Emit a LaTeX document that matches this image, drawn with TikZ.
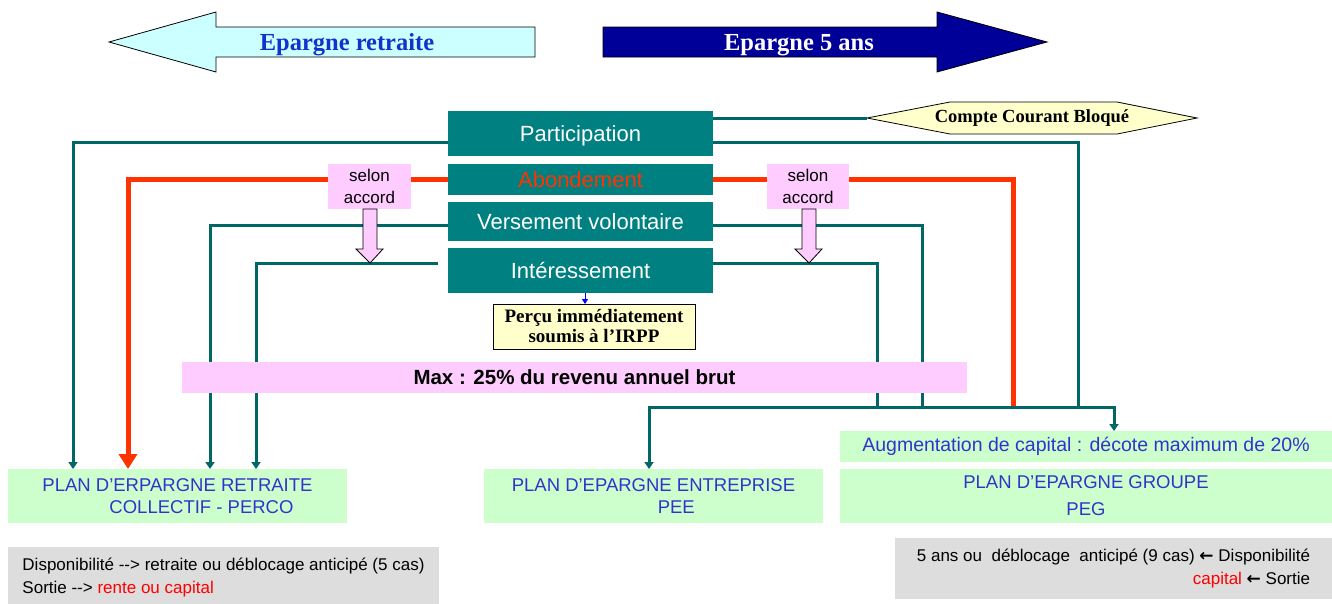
\documentclass[tikz,border=0pt]{standalone}
\usepackage{fontspec}
\setmainfont{Liberation Sans}
\newfontfamily\serifx{Liberation Serif}
\newfontfamily\djv{DejaVu Sans}
\usetikzlibrary{arrows.meta,calc}
\definecolor{tealbox}{HTML}{008080}
\definecolor{tealline}{HTML}{006666}
\definecolor{redl}{HTML}{FF3300}
\definecolor{pinkb}{HTML}{FFCCFF}
\definecolor{greenb}{HTML}{CCFFCC}
\definecolor{grayb}{HTML}{DDDDDD}
\definecolor{plantxt}{HTML}{3333CC}
\definecolor{cyanb}{HTML}{CCFFFF}
\definecolor{navyb}{HTML}{000099}
\definecolor{yelb}{HTML}{FFFFCC}
\definecolor{bluetxt}{HTML}{1133CC}
\definecolor{redtxt}{HTML}{FF0000}
\newcommand\myfs[2]{\fontsize{#1}{#2}\selectfont}
\newcommand\dasharrow{{-}{-}>}
\begin{document}
\begin{tikzpicture}[x=1pt,y=-1pt,
  tl/.style={draw=tealline,line width=3pt},
  rl/.style={draw=redl,line width=5pt},
  tarr/.style={-{Triangle[length=7pt,width=9pt]}},
  rarr/.style={-{Triangle[length=15pt,width=18pt]}},
  fbox/.style={fill=tealbox,inner sep=0pt,outer sep=0pt,minimum width=265pt,text=white,font=\myfs{22}{26},text height=18pt,text depth=3pt},
  pbox/.style={fill=pinkb,inner sep=0pt,outer sep=0pt,align=center},
  gbox/.style={fill=greenb,inner sep=0pt,outer sep=0pt,text=plantxt,font=\myfs{18.5}{22}},
  greybox/.style={fill=grayb,inner sep=0pt,outer sep=0pt,font=\myfs{17}{23}},
  bigarrow/.style={draw=black,line width=0.8pt},
  pinkarrow/.style={draw=black,fill=pinkb,line width=0.8pt}]
\useasboundingbox (0,0) rectangle (1332,603);
% top arrows
\draw[bigarrow,fill=cyanb] (109,42) -- (216,12) -- (216,27) -- (535,27) -- (535,57) -- (216,57) -- (216,72) -- cycle;
\node[text=bluetxt,font=\serifx\bfseries\myfs{24.5}{28}] (ret) at (347,45) {Epargne retraite};
\draw[bigarrow,fill=navyb] (603,27) -- (937,27) -- (937,12) -- (1047,42) -- (937,72) -- (937,57) -- (603,57) -- cycle;
\node[text=white,font=\serifx\bfseries\myfs{24.5}{28}] (cinq) at (799,45) {Epargne 5 ans};
% hexagon
\draw[bigarrow,fill=yelb] (867,118) -- (950,102) -- (1117,102) -- (1197,118) -- (1117,134) -- (950,134) -- cycle;
\node[inner sep=0pt,outer sep=0pt,minimum width=330pt,minimum height=32pt,font=\serifx\bfseries\myfs{18.5}{20}] (ccb) at (1032,118) {Compte Courant Bloqué};
% main boxes
\node[fbox,minimum height=45pt] (part) at (580.5,133.5) {Participation};
\node[fbox,minimum height=31pt,text=redl] (abond) at (580.5,179.5) {Abondement};
\node[fbox,minimum height=39pt] (vers) at (580.5,221.5) {Versement volontaire};
\node[fbox,minimum height=45pt] (inter) at (580.5,270.5) {Intéressement};
% plan boxes
\node[gbox,minimum width=339pt,minimum height=54pt,align=left] (perco) at (177.5,496) {PLAN D’ERPARGNE RETRAITE\\\hspace*{67pt}COLLECTIF - PERCO};
\node[gbox,minimum width=339pt,minimum height=54pt,align=left] (pee) at (653.5,496) {PLAN D’EPARGNE ENTREPRISE\\\hspace*{146pt}PEE};
\node[gbox,minimum width=492pt,minimum height=31pt,font=\myfs{19.5}{22}] (aug) at (1086,446.5) {Augmentation de capital : décote maximum de 20\%};
\node[gbox,minimum width=492pt,minimum height=54pt,align=center,font=\myfs{18.5}{27}] (peg) at (1086,496) {PLAN D’EPARGNE GROUPE\\PEG};
% coordinates
\coordinate (xA) at (73,0);
\coordinate (xB) at (128,0);
\coordinate (xC) at (210,0);
\coordinate (xD) at (256,0);
\coordinate (busL) at (649,407);
\coordinate (busR) at (1114,407);
\coordinate (xE) at (877,407);
\coordinate (xF) at (922,407);
\coordinate (xG) at (1013,407);
\coordinate (xH) at (1078,407);
\coordinate (xP) at (585,0);
% left connectors
\draw[tl,tarr] ($(part.west)+(0,8.5)$) -| (xA |- perco.north);
\draw[rl,rarr] (abond.west) -| (xB |- perco.north);
\draw[tl,tarr] ($(vers.west)+(0,4)$) -| (xC |- perco.north);
\draw[tl,tarr] ($(inter.west)+(-10,-7.5)$) -| (xD |- perco.north);
% right connectors
\draw[tl] ($(part.east)+(0,-15.5)$) -- (ccb.west);
\draw[tl] ($(part.east)+(0,8.5)$) -| (xH);
\draw[rl] (abond.east) -| (xG);
\draw[tl] ($(vers.east)+(0,4)$) -| (xF);
\draw[tl] ($(inter.east)+(0,-7.5)$) -| (xE);
\draw[tl,tarr] (busR) -- (busL) -- (busL |- pee.north);
\draw[tl,tarr] (busL) -- (busR) -- (busR |- aug.north);
% selon accord
\node[pbox,minimum width=83pt,minimum height=45pt,font=\myfs{17}{22}] (sa1) at (369.5,186.5) {selon\\accord};
\node[pbox,minimum width=82pt,minimum height=45pt,font=\myfs{17}{22}] (sa2) at (808,186.5) {selon\\accord};
\draw[pinkarrow] (363,209) -- (377,209) -- (377,249) -- (383,249) -- (370,263) -- (356,249) -- (363,249) -- cycle;
\draw[pinkarrow] (802,209) -- (816,209) -- (816,249) -- (822,249) -- (809,263) -- (795,249) -- (802,249) -- cycle;
% Percu
\node[draw=black,line width=0.8pt,fill=yelb,inner sep=0pt,outer sep=0pt,minimum width=202pt,minimum height=45pt,align=center,font=\serifx\bfseries\myfs{19}{20}] (percu) at (594,326.5) {Perçu immédiatement\\soumis à l’IRPP};
\draw[blue,line width=1pt,-{Triangle[length=5pt,width=6pt]}] (xP |- inter.south) -- (xP |- percu.north);
% Max
\node[pbox,minimum width=785pt,minimum height=31pt,font=\bfseries\myfs{20.5}{24}] (max) at (574.5,377.5) {Max : 25\% du revenu annuel brut};
% grey boxes
\node[greybox,minimum width=431pt,minimum height=58pt,align=left,text depth=0pt] (dispL) at (223.5,576) {Disponibilité \dasharrow{} retraite ou déblocage anticipé (5 cas)\\Sortie \dasharrow{} \textcolor{redtxt}{rente ou capital}};
\node[greybox,minimum width=437pt,minimum height=61pt,align=right] (dispR) at (1113.5,568.5) {5 ans ou\ \ déblocage\ \ anticipé (9 cas) {\djv\bfseries ←} Disponibilité\\\textcolor{redtxt}{capital} {\djv\bfseries ←} Sortie};
\end{tikzpicture}
\end{document}
